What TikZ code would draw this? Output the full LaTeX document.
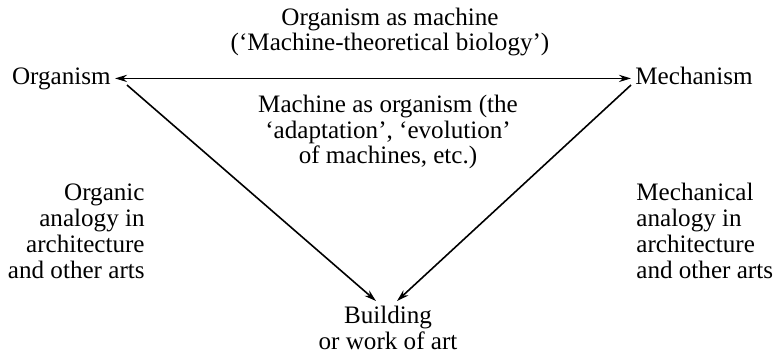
\documentclass[tikz,border=0pt]{standalone}
\usepackage{fontspec}
\setmainfont{Liberation Serif}
\usetikzlibrary{positioning,arrows.meta}

\begin{document}
\begin{tikzpicture}[x=0.5bp, y=-0.5bp,
        every node/.style={font=\fontsize{12.6}{13}\selectfont, inner sep=2bp},
        txt/.style={align=center},
        arr/.style={-{Stealth[length=6bp, width=3.6bp]}, line width=0.8bp}]
        \useasboundingbox (0, 0) rectangle (774, 353);

        \node[txt] at (390, 32)(om){Organism as machine\\(`Machine-theoretical biology')};
        \node[anchor=base east] at (115, 84)(org){Organism};
        \node[anchor=base west] at (631, 84)(mech){Mechanism};
        \node[txt] at (388, 132)(mo){Machine as organism (the\\`adaptation', `evolution'\\of machines, etc.)};
        \node[align=right, anchor=east] at (149, 231)(oa){Organic\\analogy in\\architecture\\and other arts};
        \node[align=left, anchor=west] at (632, 231)(ma){Mechanical\\analogy in\\architecture\\and other arts};
        \node[txt] at (388, 328)(bld){Building\\or work of art};

        \coordinate (ls) at (127, 85);
        \coordinate (lt) at (376, 301);
        \coordinate (rs) at (631, 85);
        \coordinate (rt) at (397, 301);

        \path[arr]
        (org.east)edge[{Stealth[length=6bp, width=3.6bp]}-{Stealth[length=6bp, width=3.6bp]}](org.east -| mech.west)
        (ls)edge(lt)
        (rs)edge(rt)
        ;
    \end{tikzpicture}
\end{document}
